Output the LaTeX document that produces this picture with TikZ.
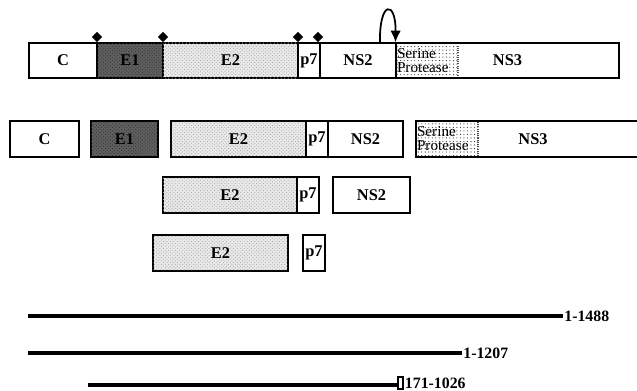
\documentclass[tikz,border=0pt]{standalone}
\usepackage{fontspec}
\setmainfont{Liberation Serif}
\usetikzlibrary{arrows.meta,shapes.geometric,patterns}
\definecolor{DarkStip}{RGB}{95,95,95}
\definecolor{LightStip}{RGB}{234,234,234}
\tikzset{
  seg/.style={draw=black,line width=1.7pt,minimum height=1.06cm,inner sep=0pt,
    font=\bfseries\fontsize{14}{16}\selectfont},
  envone/.style={seg,fill=DarkStip,
    postaction={pattern=crosshatch dots,pattern color=black!80}},
  envtwo/.style={seg,fill=LightStip,
    postaction={pattern=crosshatch dots,pattern color=black!35}},
  protease/.style={draw=black!70,densely dotted,line width=0.9pt,pattern=dots,
    pattern color=black!80,minimum height=1.06cm,text width=1.8cm,inner sep=0.03cm,
    align=left,font=\fontsize{13}{12}\selectfont},
  cleave/.style={diamond,fill=black,inner sep=0pt,minimum size=0.32cm},
  region/.style={line width=3.3pt},
  endbox/.style={draw=black,line width=1pt,inner sep=0pt,minimum width=0.15cm,
    minimum height=0.36cm},
  endlabel/.style={anchor=west,inner sep=1pt,font=\bfseries\fontsize{13.5}{15}\selectfont},
  cutarrow/.style={-{Latex[length=10pt,width=9pt]},line width=1.5pt}
}

\begin{document}
\begin{tikzpicture}[x=0.03cm,y=-0.03cm]

\clip (0,0) rectangle (637,391);

\node[seg,minimum width=2.04cm] (c1) at (63,60.5) {C};
\node[envone,minimum width=1.98cm] (e1a) at (130,60.5) {E1};
\node[envtwo,minimum width=4.05cm] (e2a) at (230.5,60.5) {E2};
\node[seg,minimum width=0.66cm] (p7a) at (309,60.5) {p7};
\node[seg,minimum width=2.28cm] (ns2a) at (358,60.5) {NS2};
\node[protease] (pro1) at (427,60.5) {Serine\\Protease};
\node[seg,minimum width=6.69cm] (ns3a) at (507.5,60.5) {NS3};

\node[cleave] (d1) at (97,37) {};
\node[cleave] (d2) at (163,37) {};
\node[cleave] (d3) at (298,37) {};
\node[cleave] (d4) at (318,37) {};

\coordinate (cut) at (380,43);
\draw[cutarrow] (cut) .. controls (379,0) and (396,0) .. (pro1.north west);

\node[seg,minimum width=2.07cm] (c2) at (44.5,139) {C};
\node[envone,minimum width=2.01cm] (e1b) at (124.5,139) {E1};
\node[envtwo,minimum width=4.05cm] (e2b) at (238.5,139) {E2};
\node[seg,minimum width=0.66cm] (p7b) at (317,139) {p7};
\node[seg,minimum width=2.25cm] (ns2b) at (365.5,139) {NS2};
\node[protease] (pro2) at (447,139) {Serine\\Protease};
\node[seg,minimum width=7.02cm] (ns3b) at (533,139) {NS3};

\node[envtwo,minimum width=4.02cm] (e2c) at (230,195) {E2};
\node[seg,minimum width=0.66cm] (p7c) at (308,195) {p7};
\node[seg,minimum width=2.31cm] (ns2c) at (371.5,195) {NS2};

\node[envtwo,minimum width=4.05cm] (e2d) at (220.5,253) {E2};
\node[seg,minimum width=0.66cm] (p7d) at (314,253) {p7};

\coordinate (a1) at (28,316);
\node[endlabel] (r1) at (563,316) {1-1488};
\draw[region] (a1) -- (r1.west);

\coordinate (a2) at (28,353);
\node[endlabel] (r2) at (462,353) {1-1207};
\draw[region] (a2) -- (r2.west);

\coordinate (a3) at (88,385);
\node[endbox] (k3) at (400.5,383) {};
\node[endlabel] (r3) at (k3.east) {171-1026};
\draw[region] (a3) -- (a3 -| k3.west);

\end{tikzpicture}
\end{document}
